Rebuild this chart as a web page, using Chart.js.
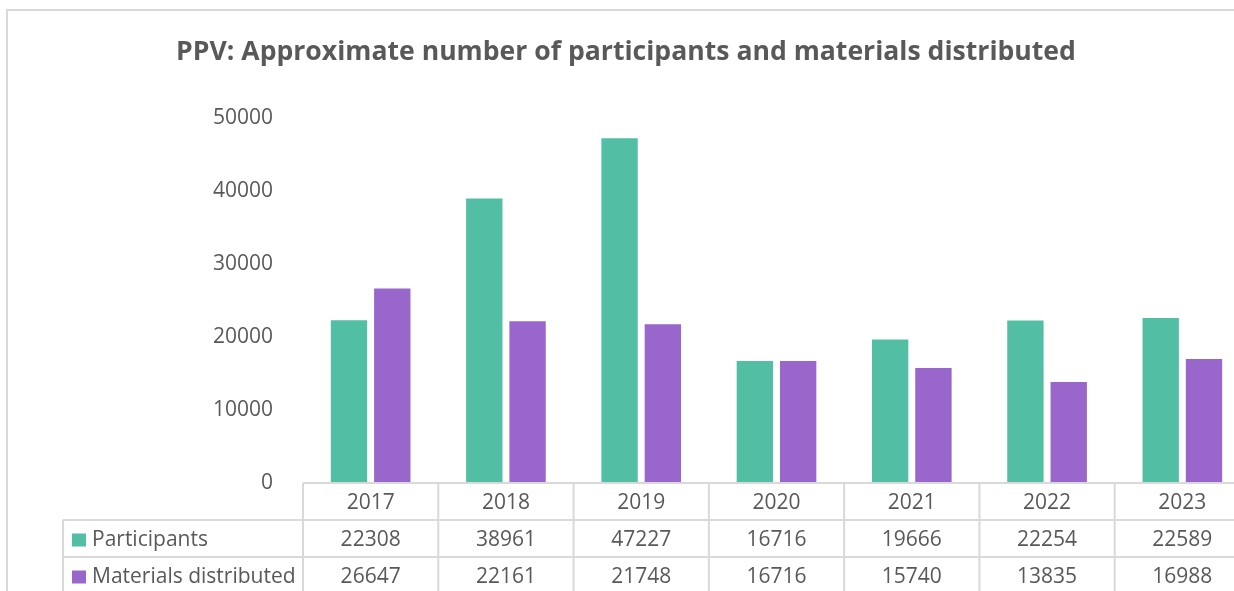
<!DOCTYPE html>
<html lang="en">
<head>
    <meta charset="UTF-8">
    <title>PPV chart</title>
    <style>
        body { margin: 0; background: #fff; overflow: hidden; }
        #wrap { width: 1234px; height: 591px; overflow: hidden; position: relative; }
        canvas { position: absolute; left: 0; top: 0; }
    </style>
</head>
<body>

<div id="wrap">
    <!-- wider than the window on purpose, the reference is cut on the right -->
    <canvas id="ppvChart" width="1250" height="591"></canvas>
</div>

<script src="https://cdn.jsdelivr.net/npm/chart.js"></script>

<script>
    // Data
    const years = ["2017", "2018", "2019", "2020", "2021", "2022", "2023"];
    const participants = [22308, 38961, 47227, 16716, 19666, 22254, 22589];
    const materials = [26647, 22161, 21748, 16716, 15740, 13835, 16988];
    const seriesNames = ["Participants", "Materials distributed"];
    const yTicks = [0, 10000, 20000, 30000, 40000, 50000];

    const titleText = "PPV: Approximate number of participants and materials distributed";
    const textColor = "#595959";
    const lineColor = "#d9d9d9";
    const colors = ["#52bfa4", "#9966cc"];
    const font = "'Open Sans', sans-serif";

    // Frame, title and the data table under the plot
    const tablePlugin = {
        id: "tablePlugin",
        beforeDraw(chart) {
            const ctx = chart.ctx;
            ctx.save();
            ctx.strokeStyle = lineColor;
            ctx.lineWidth = 2;
            ctx.beginPath();
            ctx.moveTo(7, 591);
            ctx.lineTo(7, 10);
            ctx.lineTo(1250, 10);
            ctx.stroke();

            ctx.fillStyle = textColor;
            ctx.font = "bold 26.6px " + font;
            ctx.textAlign = "center";
            ctx.textBaseline = "middle";
            ctx.fillText(titleText, 626, 52);
            ctx.restore();
        },
        afterDraw(chart) {
            const ctx = chart.ctx;
            const x = chart.scales.x;
            const area = chart.chartArea;
            const step = (area.right - area.left) / years.length;
            const rowTop = [area.bottom, area.bottom + 37, area.bottom + 74];
            const rowH = 37;
            ctx.save();
            ctx.strokeStyle = lineColor;
            ctx.lineWidth = 2;
            ctx.beginPath();
            // axis line / header top
            ctx.moveTo(area.left, area.bottom);
            ctx.lineTo(1250, area.bottom);
            // row lines
            ctx.moveTo(63, rowTop[1]);
            ctx.lineTo(1250, rowTop[1]);
            ctx.moveTo(63, rowTop[2]);
            ctx.lineTo(1250, rowTop[2]);
            // left edge of the legend column
            ctx.moveTo(63, rowTop[1]);
            ctx.lineTo(63, 591);
            // category separators
            for (let i = 0; i <= years.length; i++) {
                const px = area.left + i * step;
                ctx.moveTo(px, area.bottom);
                ctx.lineTo(px, 591);
            }
            ctx.stroke();

            ctx.font = "21px " + font;
            ctx.fillStyle = textColor;
            ctx.textAlign = "center";
            ctx.textBaseline = "middle";
            years.forEach((y, i) => {
                const cx = x.getPixelForValue(i);
                ctx.fillText(y, cx, rowTop[0] + rowH / 2 + 2);
                ctx.fillText(String(participants[i]), cx, rowTop[1] + rowH / 2 + 2);
                ctx.fillText(String(materials[i]), cx, rowTop[2] + rowH / 2 + 2);
            });

            // legend keys
            ctx.textAlign = "left";
            seriesNames.forEach((name, i) => {
                const cy = rowTop[i + 1] + rowH / 2 + 2;
                ctx.fillStyle = colors[i];
                ctx.fillRect(72, cy - 7, 14, 13);
                ctx.fillStyle = textColor;
                ctx.fillText(name, 92, cy);
            });
            ctx.restore();
        }
    };

    const ppvChart = new Chart(document.getElementById("ppvChart"), {
        type: "bar",
        data: {
            labels: years,
            datasets: [{
                label: seriesNames[0],
                data: participants,
                backgroundColor: colors[0],
                categoryPercentage: 0.64,
                barPercentage: 0.84,
            }, {
                label: seriesNames[1],
                data: materials,
                backgroundColor: colors[1],
                categoryPercentage: 0.64,
                barPercentage: 0.84,
            }]
        },
        options: {
            responsive: false,
            animation: false,
            layout: { padding: { top: 118, right: 0, bottom: 0, left: 0 } },
            plugins: {
                legend: { display: false },
                title: { display: false },
                tooltip: { enabled: false }
            },
            scales: {
                x: {
                    ticks: { display: false },
                    grid: { display: false },
                    border: { display: false },
                    afterFit(scale) { scale.height = 108; }
                },
                y: {
                    min: 0,
                    max: 50000,
                    afterBuildTicks(scale) { scale.ticks = yTicks.map(v => ({ value: v })); },
                    ticks: {
                        color: textColor,
                        font: { family: "'Open Sans', sans-serif", size: 21 },
                        padding: 22,
                        callback: v => String(v)
                    },
                    grid: { display: false },
                    border: { display: false },
                    afterFit(scale) { scale.width = 303; }
                }
            }
        },
        plugins: [tablePlugin]
    });
</script>

</body>
</html>
